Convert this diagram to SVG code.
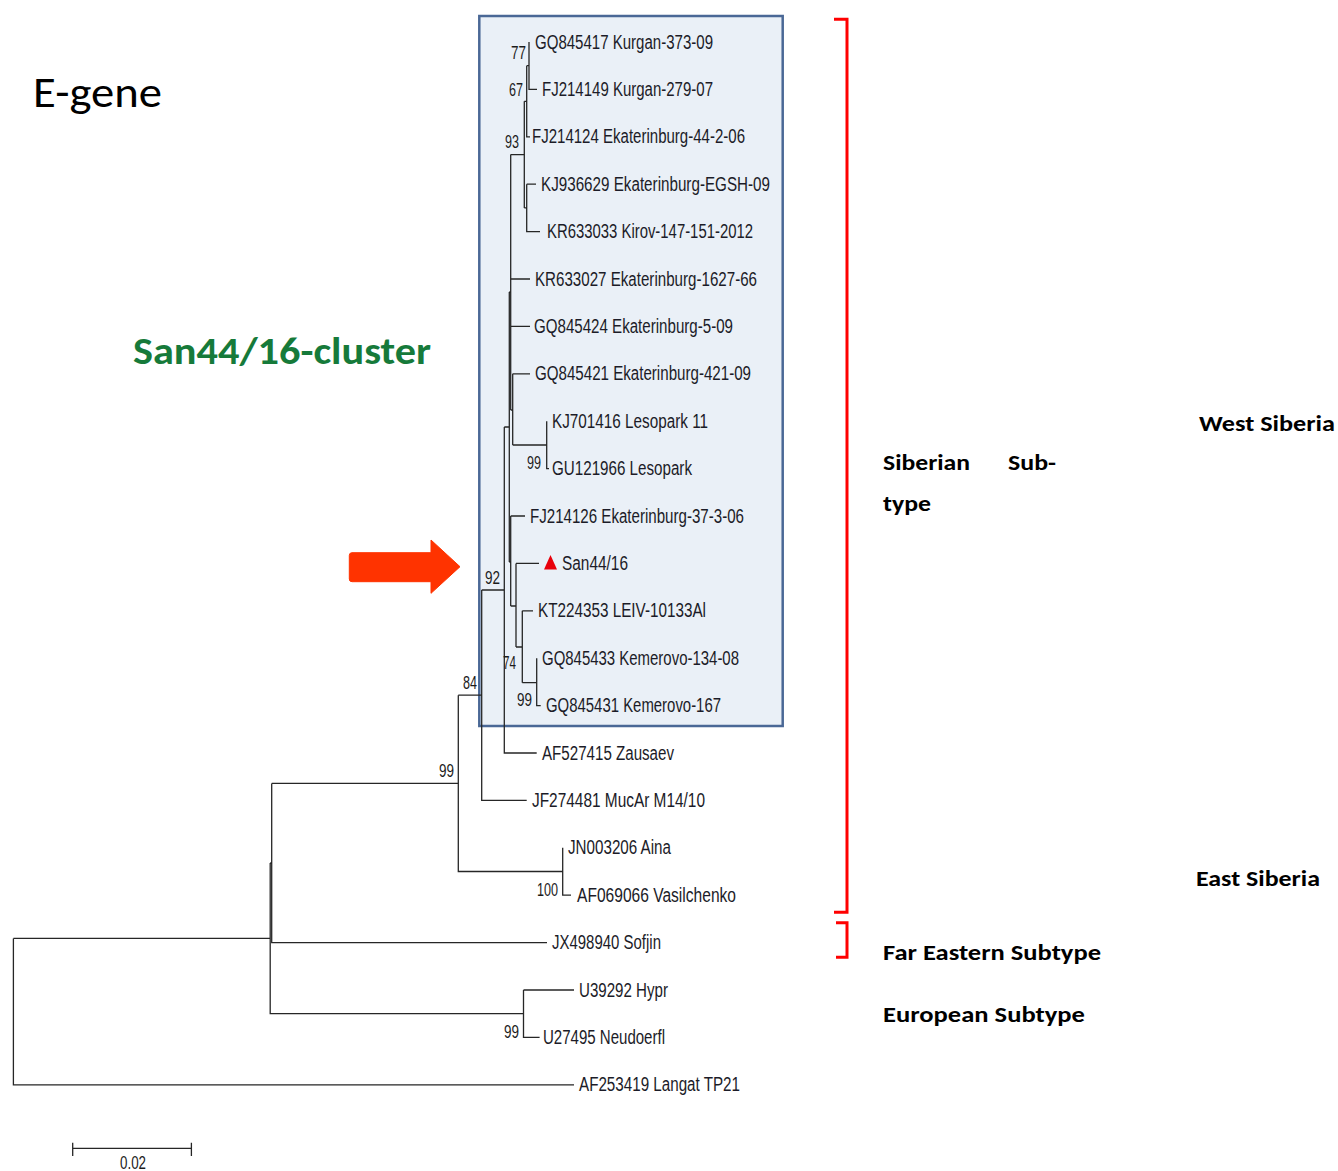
<svg xmlns="http://www.w3.org/2000/svg" width="1338" height="1171" viewBox="0 0 1338 1171">
<style>
.lf{font-family:"Liberation Sans",Arial,sans-serif;font-size:20px;fill:#1c1c28}
.bs{font-family:"Liberation Sans",Arial,sans-serif;font-size:18px;fill:#1c1c1c}
.tr{fill:none;stroke:#262626;stroke-width:1.3}
.cal{font-family:Carlito,Calibri,Lato,"Open Sans",sans-serif;fill:#000}
.rb{fill:none;stroke:#FF0000;stroke-width:3}
</style>
<rect width="1338" height="1171" fill="#fff"/>
<g id="cluster-box"><rect x="479.3" y="16" width="303.4" height="710" fill="#EAF0F7" stroke="#4A6896" stroke-width="2.5"/></g>

<g id="connectors" class="tr">
<path d="M529,42V89.4H537M526.7,65.7H529M526.7,65.7V136.8H530M524.3,101.3H526.7M524.3,101.3V207.9M524.3,207.9H526.7M526.7,184.2V231.6H540M526.7,184.2H536"/>
<path d="M510.7,154.6H524.3M510.7,154.6V410M510.7,279H530M510.7,326.4H530M510.7,410H512.7M512.7,373.8V445M512.7,373.8H530M512.7,445H546.7M546.7,421.2V468.6H549"/>
<path d="M509.3,292V562M509.3,292H510.7M509.3,562H510.7M510.7,516V606M510.7,516H525M510.7,606H516M516,563.4V647M516,563.4H539M516,647H522.3M522.3,610.8V682.7M522.3,610.8H533M522.3,682.7H536.7M536.7,658.2V705.6H540.7"/>
<path d="M504.3,427V753H536.7M504.3,427H509.3M481.7,590H504.3M481.7,590V800.4H526.7M458.3,695.2H481.7M458.3,695.2V871.5H562.7M562.7,847.8V895.2H571"/>
<path d="M271.7,783.4H458.3M271.7,783.4V942.6H547M270.2,863H271.7M270.2,863V1013.7H523.5M523.5,990V1037.4H539.6M523.5,990H574M13.4,938.4H270.2M13.4,938.4V1084.8H574"/>
</g>

<g id="scale-bar"><path class="tr" d="M72.7,1148.3H191.4M72.7,1142.7V1156M191.4,1142.7V1156"/><text class="bs" x="120" y="1169" font-size="17" textLength="26" lengthAdjust="spacingAndGlyphs">0.02</text></g>

<g id="bootstrap">
<text class="bs" x="511" y="59" textLength="15" lengthAdjust="spacingAndGlyphs">77</text>
<text class="bs" x="509" y="96" textLength="14" lengthAdjust="spacingAndGlyphs">67</text>
<text class="bs" x="505" y="148" textLength="14" lengthAdjust="spacingAndGlyphs">93</text>
<text class="bs" x="527" y="469" textLength="14" lengthAdjust="spacingAndGlyphs">99</text>
<text class="bs" x="485" y="584" textLength="15" lengthAdjust="spacingAndGlyphs">92</text>
<text class="bs" x="503" y="669" textLength="13" lengthAdjust="spacingAndGlyphs">74</text>
<text class="bs" x="463" y="689" textLength="14" lengthAdjust="spacingAndGlyphs">84</text>
<text class="bs" x="517" y="706" textLength="15" lengthAdjust="spacingAndGlyphs">99</text>
<text class="bs" x="439" y="777" textLength="15" lengthAdjust="spacingAndGlyphs">99</text>
<text class="bs" x="537" y="896" textLength="21" lengthAdjust="spacingAndGlyphs">100</text>
<text class="bs" x="504" y="1038" textLength="15" lengthAdjust="spacingAndGlyphs">99</text>
</g>

<g id="leaf-GQ845417"><text class="lf" x="535" y="48.5" textLength="178" lengthAdjust="spacingAndGlyphs">GQ845417 Kurgan-373-09</text></g>
<g id="leaf-FJ214149"><text class="lf" x="542" y="95.9" textLength="171" lengthAdjust="spacingAndGlyphs">FJ214149 Kurgan-279-07</text></g>
<g id="leaf-FJ214124"><text class="lf" x="532" y="143.3" textLength="213" lengthAdjust="spacingAndGlyphs">FJ214124 Ekaterinburg-44-2-06</text></g>
<g id="leaf-KJ936629"><text class="lf" x="541" y="190.7" textLength="229" lengthAdjust="spacingAndGlyphs">KJ936629 Ekaterinburg-EGSH-09</text></g>
<g id="leaf-KR633033"><text class="lf" x="547" y="238.1" textLength="206" lengthAdjust="spacingAndGlyphs">KR633033 Kirov-147-151-2012</text></g>
<g id="leaf-KR633027"><text class="lf" x="535" y="285.5" textLength="222" lengthAdjust="spacingAndGlyphs">KR633027 Ekaterinburg-1627-66</text></g>
<g id="leaf-GQ845424"><text class="lf" x="534" y="332.9" textLength="199" lengthAdjust="spacingAndGlyphs">GQ845424 Ekaterinburg-5-09</text></g>
<g id="leaf-GQ845421"><text class="lf" x="535" y="380.3" textLength="216" lengthAdjust="spacingAndGlyphs">GQ845421 Ekaterinburg-421-09</text></g>
<g id="leaf-KJ701416"><text class="lf" x="552" y="427.7" textLength="156" lengthAdjust="spacingAndGlyphs">KJ701416 Lesopark 11</text></g>
<g id="leaf-GU121966"><text class="lf" x="552" y="475.1" textLength="140" lengthAdjust="spacingAndGlyphs">GU121966 Lesopark</text></g>
<g id="leaf-FJ214126"><text class="lf" x="530" y="522.5" textLength="214" lengthAdjust="spacingAndGlyphs">FJ214126 Ekaterinburg-37-3-06</text></g>
<g id="leaf-San44-16"><path d="M550.5,555L557,569.5H544Z" fill="#E8000B"/><text class="lf" x="562" y="569.9" textLength="66" lengthAdjust="spacingAndGlyphs">San44/16</text></g>
<g id="leaf-KT224353"><text class="lf" x="538" y="617.3" textLength="168" lengthAdjust="spacingAndGlyphs">KT224353 LEIV-10133Al</text></g>
<g id="leaf-GQ845433"><text class="lf" x="542" y="664.7" textLength="197" lengthAdjust="spacingAndGlyphs">GQ845433 Kemerovo-134-08</text></g>
<g id="leaf-GQ845431"><text class="lf" x="546" y="712.1" textLength="175" lengthAdjust="spacingAndGlyphs">GQ845431 Kemerovo-167</text></g>
<g id="leaf-AF527415"><text class="lf" x="542" y="759.5" textLength="132" lengthAdjust="spacingAndGlyphs">AF527415 Zausaev</text></g>
<g id="leaf-JF274481"><text class="lf" x="532" y="806.9" textLength="173" lengthAdjust="spacingAndGlyphs">JF274481 MucAr M14/10</text></g>
<g id="leaf-JN003206"><text class="lf" x="568" y="854.3" textLength="103" lengthAdjust="spacingAndGlyphs">JN003206 Aina</text></g>
<g id="leaf-AF069066"><text class="lf" x="577" y="901.7" textLength="159" lengthAdjust="spacingAndGlyphs">AF069066 Vasilchenko</text></g>
<g id="leaf-JX498940"><text class="lf" x="552" y="949.1" textLength="109" lengthAdjust="spacingAndGlyphs">JX498940 Sofjin</text></g>
<g id="leaf-U39292"><text class="lf" x="579" y="996.5" textLength="89" lengthAdjust="spacingAndGlyphs">U39292 Hypr</text></g>
<g id="leaf-U27495"><text class="lf" x="543" y="1043.9" textLength="122" lengthAdjust="spacingAndGlyphs">U27495 Neudoerfl</text></g>
<g id="leaf-AF253419"><text class="lf" x="579" y="1091.3" textLength="161" lengthAdjust="spacingAndGlyphs">AF253419 Langat TP21</text></g>

<g id="title"><text class="cal" x="33" y="107" font-size="44" textLength="129" lengthAdjust="spacingAndGlyphs">E-gene</text></g>
<g id="cluster-label"><text class="cal" x="133" y="364" font-size="39" font-weight="bold" style="fill:#167A3A" textLength="298" lengthAdjust="spacingAndGlyphs">San44/16-cluster</text></g>
<g id="arrow"><path d="M352,552.7H431V540L460,566.7L431,593.3V581.7H352Q349.3,581.7 349.3,579V555.5Q349.3,552.7 352,552.7Z" fill="#FF3300" stroke="#FF3300" stroke-width="1" stroke-linejoin="round"/></g>

<g id="brackets"><path class="rb" d="M834,19.3H847V912.3H834"/><path class="rb" d="M836,922.7H847V957.3H836"/></g>

<g id="subtype-labels" font-weight="bold" font-size="22">
<text class="cal" x="1199" y="431" textLength="136" lengthAdjust="spacingAndGlyphs">West Siberia</text>
<text class="cal" x="883" y="470" textLength="87" lengthAdjust="spacingAndGlyphs">Siberian</text>
<text class="cal" x="1008" y="470" textLength="48" lengthAdjust="spacingAndGlyphs">Sub-</text>
<text class="cal" x="883" y="511" textLength="48" lengthAdjust="spacingAndGlyphs">type</text>
<text class="cal" x="1196" y="886" textLength="124" lengthAdjust="spacingAndGlyphs">East Siberia</text>
<text class="cal" x="883" y="960" textLength="218" lengthAdjust="spacingAndGlyphs">Far Eastern Subtype</text>
<text class="cal" x="883" y="1022" textLength="202" lengthAdjust="spacingAndGlyphs">European Subtype</text>
</g>
</svg>
